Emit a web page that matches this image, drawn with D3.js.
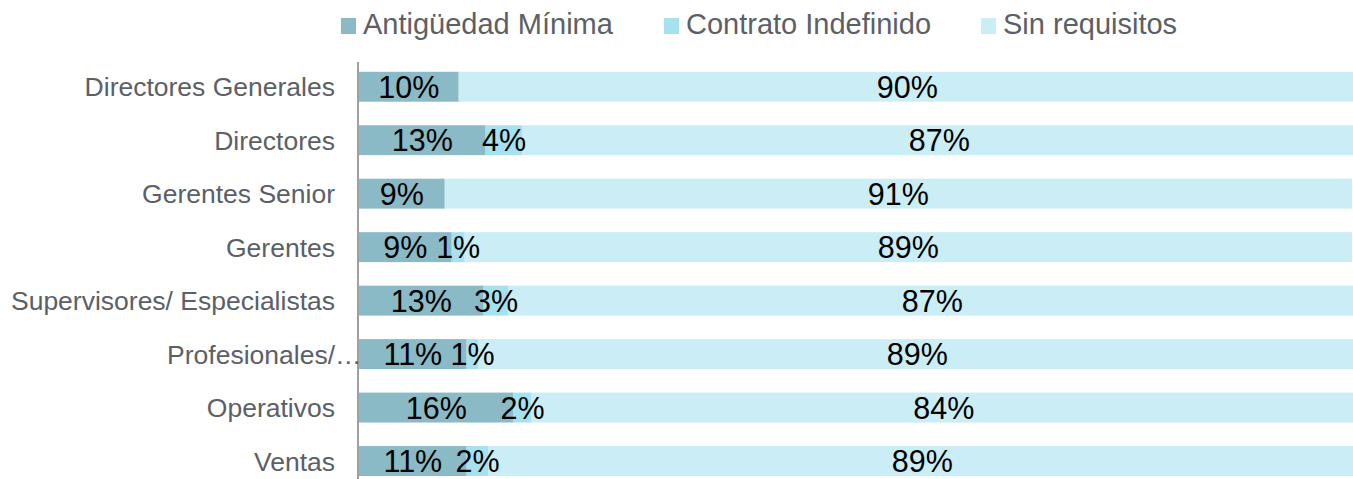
<!DOCTYPE html>
<html>
<head>
<meta charset="utf-8">
<script src="https://cdn.jsdelivr.net/npm/d3@7"></script>
<style>
    body { margin: 0; background: #fff; }
    svg { display: block; font-family: "Liberation Sans", Arial, sans-serif; }
</style>
</head>
<body>
<svg id="chart"></svg>
<script>
// data (percent)
const categories = ["Directores Generales", "Directores", "Gerentes Senior", "Gerentes",
    "Supervisores/ Especialistas", "Profesionales/…", "Operativos", "Ventas"];
const antiguedad = [10.0, 12.7, 8.6, 9.3, 12.5, 10.8, 15.5, 10.8];
const contrato   = [0, 3.7, 0, 1.3, 2.5, 1.2, 1.8, 2.2];
const sinReq     = [90, 87, 91, 89, 87, 89, 84, 89];

const seriesNames = ["Antigüedad Mínima", "Contrato Indefinido", "Sin requisitos"];
const colors = ["#8abac6", "#a6e1ef", "#cbedf5"];

const width = 1353, height = 479;
const margin = {top: 60, left: 359, right: 1356};

const svg = d3.select("#chart")
    .attr("width", width)
    .attr("height", height);

var rows = categories.map(function(c, i) {
    return {cat: c, a: antiguedad[i], c: contrato[i], s: sinReq[i]};
});

var stack = d3.stack().keys(["a", "c", "s"]);
var series = stack(rows);

var x = d3.scaleLinear()
    .domain([0, 100])
    .range([margin.left, margin.right]);

var y = d3.scaleBand()
    .domain(categories)
    .range([margin.top, margin.top + 53.47 * categories.length])
    .paddingInner(0.44)
    .paddingOuter(0.22);

// clip bars at the plot's right edge (100%)
svg.append("clipPath")
    .attr("id", "plot-clip")
    .append("rect")
    .attr("x", x(0))
    .attr("y", 0)
    .attr("width", x(100) - x(0))
    .attr("height", height);

var layer = svg.append("g")
    .attr("clip-path", "url(#plot-clip)")
    .selectAll("g.layer")
    .data(series)
    .enter()
    .append("g")
    .attr("class", "layer")
    .style("fill", function(d, i) { return colors[i]; });

layer.selectAll("rect")
    .data(function(d) { return d; })
    .enter()
    .append("rect")
    .attr("x", function(d) { return x(d[0]); })
    .attr("y", function(d) { return y(d.data.cat); })
    .attr("width", function(d) { return x(d[1]) - x(d[0]); })
    .attr("height", y.bandwidth());

// value labels, centred on the visible part of each segment
var labels = svg.append("g");
series.forEach(function(s) {
    labels.selectAll("text.v" + s.index)
        .data(s.filter(function(d) { return d[1] - d[0] > 0; }))
        .enter()
        .append("text")
        .attr("class", "v" + s.index)
        .attr("x", function(d) { return (x(d[0]) + Math.min(x(d[1]), x(100))) / 2; })
        .attr("y", function(d) { return y(d.data.cat) + y.bandwidth() / 2; })
        .attr("dy", "0.36em")
        .attr("text-anchor", "middle")
        .style("font-size", "30.5px")
        .style("fill", "#000")
        .text(function(d) { return Math.round(d[1] - d[0]) + "%"; });
});

// y axis
svg.append("line")
    .attr("x1", x(0) - 1).attr("x2", x(0) - 1)
    .attr("y1", 62).attr("y2", height)
    .style("stroke", "#a0a0a0")
    .style("stroke-width", 2);

var catLabels = svg.append("g")
    .selectAll("g")
    .data(categories)
    .enter()
    .append("g")
    .attr("transform", function(d) {
        return "translate(335," + (y(d) + y.bandwidth() / 2) + ")";
    });

catLabels.append("text")
    .attr("text-anchor", "end")
    .attr("dy", "0.36em")
    .style("font-size", "26.5px")
    .style("fill", "#5b6067")
    .text(function(d) { return d.replace("…", ""); });

// truncated label: ellipsis runs past the label edge
catLabels.filter(function(d) { return d.indexOf("…") > -1; })
    .append("text")
    .attr("x", 0)
    .attr("dy", "0.36em")
    .style("font-size", "26.5px")
    .style("fill", "#5b6067")
    .text("…");

// legend
var legendX = [341, 664, 981];
var legend = svg.append("g")
    .selectAll("g")
    .data(seriesNames)
    .enter()
    .append("g")
    .attr("transform", function(d, i) { return "translate(" + legendX[i] + ",0)"; });

legend.append("rect")
    .attr("x", 0)
    .attr("y", 18)
    .attr("width", 15)
    .attr("height", 16)
    .style("fill", function(d, i) { return colors[i]; });

legend.append("text")
    .attr("x", 22)
    .attr("y", 34)
    .style("font-size", "29px")
    .style("fill", "#5b6067")
    .text(function(d) { return d; });
</script>
</body>
</html>
